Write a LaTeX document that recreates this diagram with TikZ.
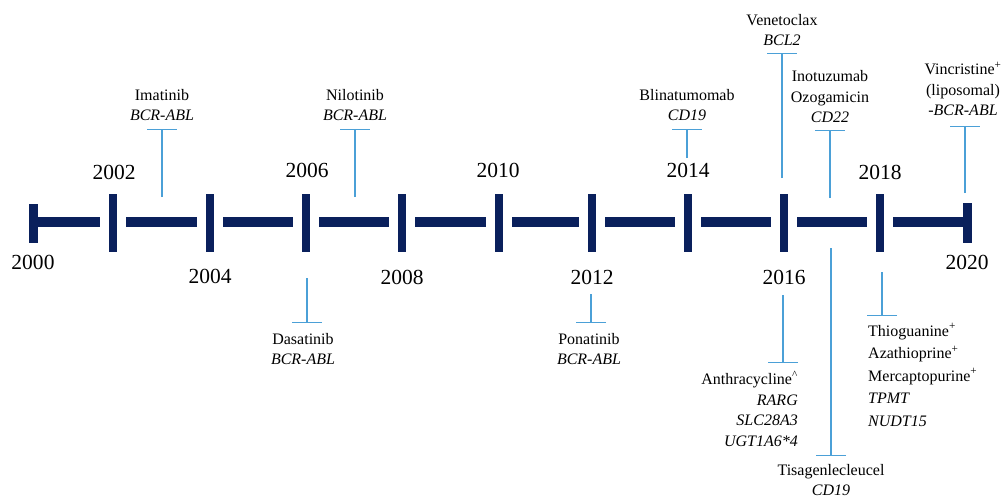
\documentclass[tikz,border=0pt]{standalone}
\usepackage{fontspec}
\setmainfont{Liberation Serif}
\usetikzlibrary{arrows.meta}
\definecolor{navy}{RGB}{10,32,92}
\definecolor{tblue}{RGB}{75,160,215}
\begin{document}
\begin{tikzpicture}[x=1pt,y=-1pt,
  seg/.style={navy,line width=9.5pt},
  tickbar/.style={navy,line width=8pt},
  capbar/.style={navy,line width=9pt},
  year/.style={font=\fontsize{21.5}{24}\selectfont,inner sep=0pt},
  drug/.style={font=\fontsize{16}{20.5}\selectfont,inner sep=0pt,align=center},
  tee/.style={tblue,line width=1.5pt,-{Bar[width=30pt,line width=1.5pt]}}]
\useasboundingbox (0,0) rectangle (1001,500);
% timeline
\foreach \a/\b in {33/100,126/197,223/293,319/389,415/486,512/579,605/675,701/771,797/867,893/967}
  \draw[seg] (\a,222) -- (\b,222);
\foreach \x in {113,210,306,402,499,592,688,784,880}
  \draw[tickbar] (\x,194) -- (\x,252);
\draw[capbar] (33,204) -- (33,243);
\draw[capbar] (967,203) -- (967,243);
% years
\node[year] (y2000) at (33,262) {2000};
\node[year] (y2002) at (114,172) {2002};
\node[year] (y2004) at (210,276) {2004};
\node[year] (y2006) at (307,170) {2006};
\node[year] (y2008) at (402,277) {2008};
\node[year] (y2010) at (498,170) {2010};
\node[year] (y2012) at (592,277) {2012};
\node[year] (y2014) at (688,170) {2014};
\node[year] (y2016) at (784,277) {2016};
\node[year] (y2018) at (880,172) {2018};
\node[year] (y2020) at (967,262) {2020};
% drugs above
\node[drug] (ima) at (162,105) {Imatinib\\\textit{BCR-ABL}};
\node[drug] (nil) at (355,105) {Nilotinib\\\textit{BCR-ABL}};
\node[drug] (bli) at (687,105) {Blinatumomab\\\textit{CD19}};
\node[drug] (ven) at (782,30) {Venetoclax\\\textit{BCL2}};
\node[drug] (ino) at (830,97) {Inotuzumab\\Ozogamicin\\\textit{CD22}};
\node[drug] (vin) at (963,89) {Vincristine\textsuperscript{+}\\(liposomal)\\\textit{-BCR-ABL}};
% drugs below
\node[drug] (das) at (303,349) {Dasatinib\\\textit{BCR-ABL}};
\node[drug] (pon) at (589,349) {Ponatinib\\\textit{BCR-ABL}};
\node[drug,align=right,anchor=east] (ant) at (798,409)
  {Anthracycline\textsuperscript{\textasciicircum}\\\textit{RARG}\\\textit{SLC28A3}\\\textit{UGT1A6*4}};
\node[drug] (tis) at (831,480) {Tisagenlecleucel\\\textit{CD19}};
\node[drug,align=left,anchor=west,font=\fontsize{16}{22.5}\selectfont] (thi) at (868,375)
  {Thioguanine\textsuperscript{+}\\Azathioprine\textsuperscript{+}\\Mercaptopurine\textsuperscript{+}\\\textit{TPMT}\\\textit{NUDT15}};
% connector coordinates
\coordinate (imaS) at (162,197); \coordinate (imaE) at (162,129);
\coordinate (nilS) at (355,197); \coordinate (nilE) at (355,129);
\coordinate (bliS) at (687,158); \coordinate (bliE) at (687,129);
\coordinate (venS) at (782,178); \coordinate (venE) at (782,53);
\coordinate (inoS) at (830,198); \coordinate (inoE) at (830,130);
\coordinate (vinS) at (965,193); \coordinate (vinE) at (965,126);
\coordinate (dasS) at (307,278); \coordinate (dasE) at (307,323);
\coordinate (ponS) at (591,294); \coordinate (ponE) at (591,323);
\coordinate (antS) at (783,295); \coordinate (antE) at (783,363);
\coordinate (tisS) at (831,248); \coordinate (tisE) at (831,456);
\coordinate (thiS) at (882,272); \coordinate (thiE) at (882,316);
\foreach \n in {ima,nil,bli,ven,ino,vin,das,pon,ant,tis,thi}
  \draw[tee] (\n S) -- (\n E);
\end{tikzpicture}
\end{document}
